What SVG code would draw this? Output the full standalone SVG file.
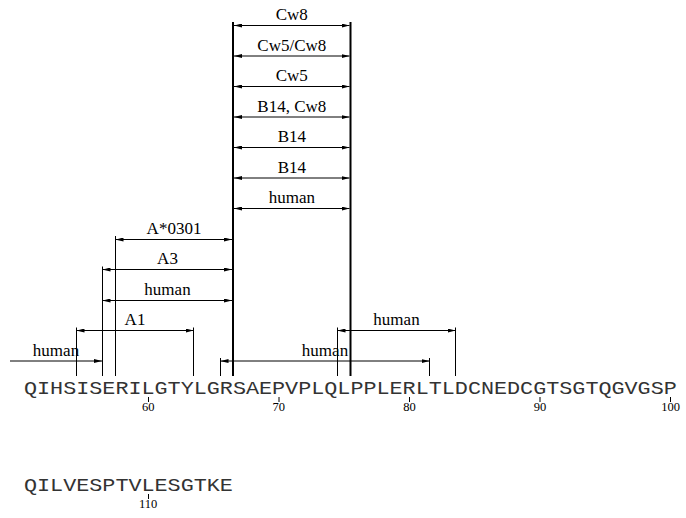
<svg xmlns="http://www.w3.org/2000/svg" width="686" height="518" viewBox="0 0 686 518">
<style>
.lbl{font-family:"Liberation Serif","Times New Roman",serif;font-size:17px;fill:#000;text-anchor:middle}
.num{font-family:"Liberation Serif","Times New Roman",serif;font-size:12.5px;fill:#000;text-anchor:middle}
.seq{font-family:"Liberation Mono","Courier New",monospace;font-size:21.77px;fill:#333}
.bar{stroke:#000;stroke-width:1;fill:none}
.thick{stroke:#000;stroke-width:2;fill:none}
.arr{stroke:#000;stroke-width:1;fill:none;marker-end:url(#ah);marker-start:url(#ah)}
.arr1{stroke:#000;stroke-width:1;fill:none;marker-end:url(#ah)}
.tick{stroke:#000;stroke-width:1}
</style>
<defs>
<marker id="ah" viewBox="0 0 8 4" refX="8" refY="2" markerWidth="8" markerHeight="4" markerUnits="userSpaceOnUse" orient="auto-start-reverse">
<path d="M0,0 L8,2 L0,4 z" fill="#000"/>
</marker>
</defs>
<rect width="686" height="518" fill="#fff"/>
<g id="connectors">
<line class="thick" x1="233" y1="22" x2="233" y2="376"/>
<line class="thick" x1="350.5" y1="22" x2="350.5" y2="376"/>
<line class="bar" x1="115.5" y1="236" x2="115.5" y2="376"/>
<line class="bar" x1="102.5" y1="266.5" x2="102.5" y2="376"/>
<line class="bar" x1="76.5" y1="327.5" x2="76.5" y2="376"/>
<line class="bar" x1="193.5" y1="327.5" x2="193.5" y2="376"/>
<line class="bar" x1="337.5" y1="327.5" x2="337.5" y2="376"/>
<line class="bar" x1="455.5" y1="327.5" x2="455.5" y2="376"/>
<line class="bar" x1="220.5" y1="358" x2="220.5" y2="376"/>
<line class="bar" x1="429.5" y1="358" x2="429.5" y2="376"/>
</g>
<g id="f-cw8"><line class="arr" x1="234" y1="25.5" x2="349.5" y2="25.5"/><text class="lbl" x="291.8" y="20">Cw8</text></g>
<g id="f-cw5cw8"><line class="arr" x1="234" y1="56" x2="349.5" y2="56"/><text class="lbl" x="291.8" y="50.5">Cw5/Cw8</text></g>
<g id="f-cw5"><line class="arr" x1="234" y1="86.5" x2="349.5" y2="86.5"/><text class="lbl" x="291.8" y="81">Cw5</text></g>
<g id="f-b14cw8"><line class="arr" x1="234" y1="117" x2="349.5" y2="117"/><text class="lbl" x="291.8" y="111.5">B14, Cw8</text></g>
<g id="f-b14a"><line class="arr" x1="234" y1="147.5" x2="349.5" y2="147.5"/><text class="lbl" x="291.8" y="142">B14</text></g>
<g id="f-b14b"><line class="arr" x1="234" y1="178" x2="349.5" y2="178"/><text class="lbl" x="291.8" y="172.5">B14</text></g>
<g id="f-human-top"><line class="arr" x1="234" y1="208.5" x2="349.5" y2="208.5"/><text class="lbl" x="291.8" y="203">human</text></g>
<g id="f-a0301"><line class="arr" x1="115.5" y1="239.5" x2="232" y2="239.5"/><text class="lbl" x="174" y="234">A*0301</text></g>
<g id="f-a3"><line class="arr" x1="102.5" y1="269.5" x2="232" y2="269.5"/><text class="lbl" x="167.5" y="264">A3</text></g>
<g id="f-human-a"><line class="arr" x1="102.5" y1="300.5" x2="232" y2="300.5"/><text class="lbl" x="167.5" y="295">human</text></g>
<g id="f-a1"><line class="arr" x1="76.5" y1="330.5" x2="193.5" y2="330.5"/><text class="lbl" x="135" y="325">A1</text></g>
<g id="f-human-right"><line class="arr" x1="337.5" y1="330.5" x2="455.5" y2="330.5"/><text class="lbl" x="396.5" y="325">human</text></g>
<g id="f-human-mid"><line class="arr" x1="220.5" y1="361" x2="429.5" y2="361"/><text class="lbl" x="325" y="356">human</text></g>
<g id="f-human-left"><line class="arr1" x1="10" y1="361" x2="102" y2="361"/><text class="lbl" x="56" y="356">human</text></g>
<g id="sequence1">
<text class="seq" transform="translate(24,394) scale(1,0.87)">QIHSISERILGTYLGRSAEPVPLQLPPLERLTLDCNEDCGTSGTQGVGSP</text>
<line class="tick" x1="148.5" y1="397" x2="148.5" y2="402"/>
<line class="tick" x1="279" y1="397" x2="279" y2="402"/>
<line class="tick" x1="409.5" y1="397" x2="409.5" y2="402"/>
<line class="tick" x1="540" y1="397" x2="540" y2="402"/>
<line class="tick" x1="670.5" y1="397" x2="670.5" y2="402"/>
<text class="num" x="148.2" y="411">60</text>
<text class="num" x="278.8" y="411">70</text>
<text class="num" x="409.4" y="411">80</text>
<text class="num" x="540.1" y="411">90</text>
<text class="num" x="670.7" y="411">100</text>
</g>
<g id="sequence2">
<text class="seq" transform="translate(24,491) scale(1,0.87)">QILVESPTVLESGTKE</text>
<line class="tick" x1="148.5" y1="494" x2="148.5" y2="499"/>
<text class="num" x="148.2" y="508">110</text>
</g>
</svg>
